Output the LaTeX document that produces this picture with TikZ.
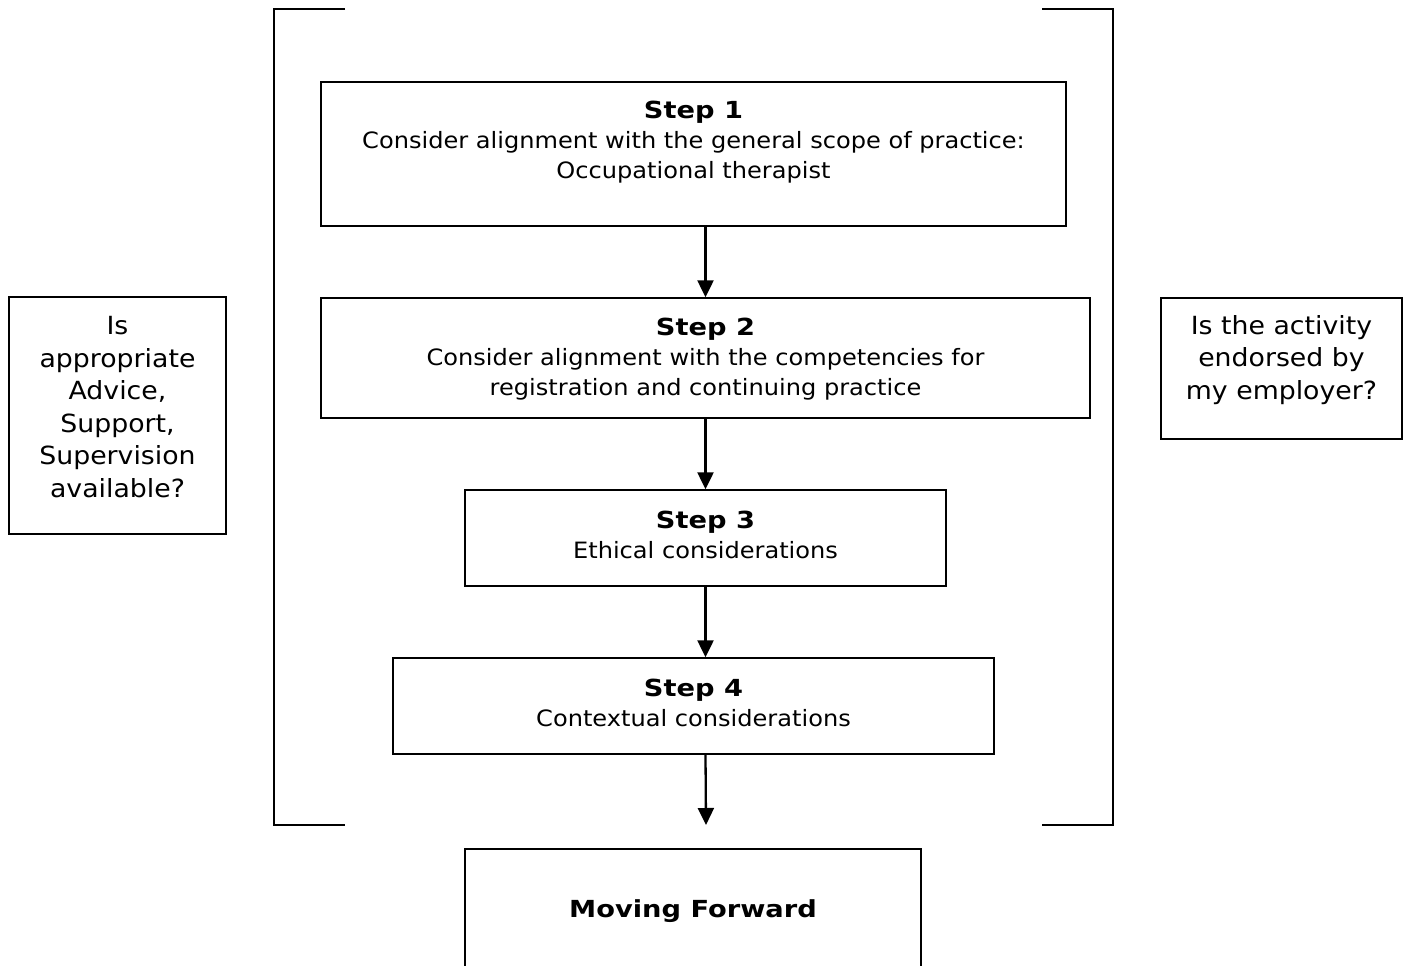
\documentclass[tikz,border=0pt]{standalone}
\usepackage{fontspec}
\setmainfont{DejaVu Sans}[FakeStretch=1.07,BoldFeatures={FakeStretch=1.16}]
\usetikzlibrary{arrows.meta}
\begin{document}
\begin{tikzpicture}[x=1pt,y=-1pt,
  box/.style={draw,line width=1.4pt,rectangle,inner sep=0pt},
  txt/.style={align=center,inner sep=0pt,font=\fontsize{22.5}{30}\selectfont},
  side/.style={align=center,inner sep=0pt,font=\fontsize{25}{32.5}\selectfont},
  arr/.style={-{Triangle[length=17pt,width=16pt]},line width=2.3pt},
  brk/.style={line width=1.4pt}]
\useasboundingbox (0,0) rectangle (1408,966);
% brackets
\coordinate (lt) at (345,9); \coordinate (ltc) at (274,9);
\coordinate (lbc) at (274,825); \coordinate (lb) at (345,825);
\coordinate (rt) at (1042,9); \coordinate (rtc) at (1113,9);
\coordinate (rbc) at (1113,825); \coordinate (rb) at (1042,825);
\draw[brk] (lt) -- (ltc) -- (lbc) -- (lb);
\draw[brk] (rt) -- (rtc) -- (rbc) -- (rb);
% boxes
\node[box,minimum width=745pt,minimum height=144pt] (s1) at (693.5,154) {};
\node[txt] (t1) at (693.5,142) {\textbf{\fontsize{23.5}{30}\selectfont Step 1}\\Consider alignment with the general scope of practice:\\Occupational therapist};
\node[box,minimum width=769pt,minimum height=120pt] (s2) at (705.5,358) {};
\node[txt] (t2) at (705.5,359) {\textbf{\fontsize{23.5}{30}\selectfont Step 2}\\Consider alignment with the competencies for\\registration and continuing practice};
\node[box,minimum width=481pt,minimum height=96pt] (s3) at (705.5,538) {};
\node[txt] (t3) at (705.5,535) {\textbf{\fontsize{23.5}{30}\selectfont Step 3}\\Ethical considerations};
\node[box,minimum width=601pt,minimum height=96pt] (s4) at (693.5,706) {};
\node[txt] (t4) at (693.5,703) {\textbf{\fontsize{23.5}{30}\selectfont Step 4}\\Contextual considerations};
% moving forward (cut off)
\coordinate (mfbl) at (465,970); \coordinate (mftl) at (465,849);
\coordinate (mftr) at (921,849); \coordinate (mfbr) at (921,970);
\draw[brk] (mfbl) -- (mftl) -- (mftr) -- (mfbr);
\node[txt] (mf) at (693,911) {\textbf{\fontsize{23.5}{30}\selectfont Moving Forward}};
% side boxes
\node[box,minimum width=217pt,minimum height=237pt] (lbox) at (117.5,415.5) {};
\node[side] (ltxt) at (117.5,407) {Is\\appropriate\\Advice,\\Support,\\Supervision\\available?};
\node[box,minimum width=241pt,minimum height=141pt] (rbox) at (1281.5,368.5) {};
\node[side] (rtxt) at (1281.5,360) {Is the activity\\endorsed by\\my employer?};
% arrows
\draw[arr] (s1.south -| s2.north) -- (s2.north);
\draw[arr] (s2.south) -- (s3.north);
\draw[arr] (s3.south) -- (s4.north -| s3.south);
\coordinate (end) at (706,825);
\draw[arr] (s4.south -| s3.south) -- (end);
\end{tikzpicture}
\end{document}
